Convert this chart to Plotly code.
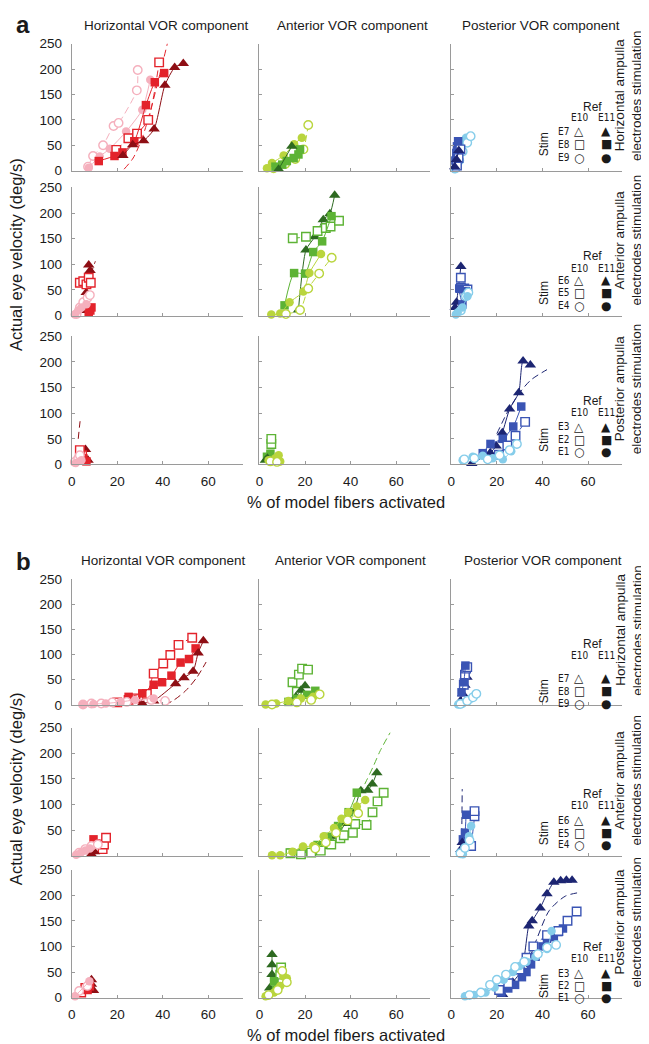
import plotly.graph_objects as go

W, H = 649, 1044

# ---------------- text ----------------
COMPONENTS = ["Horizontal VOR component", "Anterior VOR component", "Posterior VOR component"]
STIM_ROWS = [("Horizontal ampulla", "electrodes stimulation"),
             ("Anterior ampulla", "electrodes stimulation"),
             ("Posterior ampulla", "electrodes stimulation")]
STIM_LABELS = [["E7", "E8", "E9"], ["E6", "E5", "E4"], ["E3", "E2", "E1"]]
REF_LABELS = ["E10", "E11"]
Y_TICKS = [0, 50, 100, 150, 200, 250]
X_TICKS = [0, 20, 40, 60]
X_TITLE = "% of model fibers activated"
Y_TITLE = "Actual eye velocity (deg/s)"

# ---------------- data: (series key, x %, y deg/s) ----------------
# key: T/S/C = triangle/square/circle (stim electrode), o = E10 ref (open), f = E11 ref (filled)
a_HH = [
    ("Co", [7.2, 9.4, 13.8, 18.4, 20.6, 28.6, 29.0], [8, 29, 50, 88, 94, 158, 198]),
    ("Cf", [7.5, 12.3, 16.7, 23.9, 31.0, 34.5], [6, 28, 43, 77, 120, 179]),
    ("So", [19.6, 24.9, 28.7, 33.6, 38.4], [41, 64, 73, 100, 213]),
    ("Sf", [11.9, 18.8, 22.3, 27.5, 32.6, 36.5, 40.6], [19, 29, 36, 58, 129, 174, 192]),
    ("Tf", [22.5, 26.8, 31.6, 36.2, 40.9, 45.2, 49.0], [30, 51, 59, 82, 168, 203, 211]),
]
a_HA = [
    ("Co", [6.2, 11.3, 15.7, 19.3, 21.4], [5, 13, 23, 42, 90]),
    ("Cf", [3.3, 5.5, 10.6, 15.2, 18.6], [5, 15, 30, 52, 65]),
    ("Sf", [7.0, 10.0, 12.0, 15.0, 17.1, 17.8], [8, 12, 19, 25, 32, 42]),
    ("Tf", [8.4, 14.2], [3, 48]),
]
a_HP = [
    ("Cf", [1.5, 2.5, 3.0, 4.0, 5.0, 6.5], [3, 12, 25, 40, 55, 65]),
    ("Co", [2.0, 3.5, 5.0, 7.0, 8.5], [5, 20, 38, 55, 68]),
    ("Sf", [1.8, 2.2, 2.5, 3.0], [20, 35, 48, 58]),
    ("So", [2.5, 3.2, 4.0], [10, 25, 42]),
    ("Tf", [1.5, 2.3, 3.3], [8, 22, 40]),
]
a_AH = [
    ("Tf", [6.5, 6.4, 8.1, 7.5], [10, 45, 88, 99]),
    ("So", [3.6, 5.1, 6.5, 7.5, 8.4], [64, 67, 61, 74, 64]),
    ("Sf", [7.5, 8.2, 8.7], [6, 10, 16]),
    ("Co", [2.2, 3.6, 5.1, 7.0, 8.0], [3, 16, 26, 35, 40]),
    ("Cf", [1.4, 2.9, 4.3, 6.5], [2, 10, 16, 22]),
]
a_AA = [
    ("Tf", [17.1, 20.4, 24.3, 28.0, 30.9, 33.0], [11, 128, 154, 187, 199, 235]),
    ("So", [14.6, 20.4, 25.5, 29.1, 31.2, 34.9], [151, 154, 165, 171, 174, 185]),
    ("Sf", [11.0, 15.2, 20.0, 23.6, 27.5, 31.6], [20, 83, 82, 124, 145, 194]),
    ("Cf", [5.2, 9.1, 13.2, 19.3, 21.9, 27.0], [2, 4, 26, 47, 83, 120]),
    ("Co", [11.6, 17.8, 21.4, 26.2, 31.7], [3, 11, 53, 82, 113]),
]
a_AP = [
    ("Tf", [1.7, 2.3, 4.2], [16, 26, 96]),
    ("So", [5.7, 4.2, 7.1, 4.2], [53, 54, 51, 74]),
    ("Sf", [4.9, 3.5, 6.4], [22, 53, 48]),
    ("Co", [4.2, 6.4, 7.5], [10, 38, 45]),
    ("Cf", [2.0, 2.8, 4.9, 7.1], [2, 6, 16, 38]),
]
a_PH = [
    ("Tf", [7.2, 6.1], [8, 29]),
    ("So", [4.6, 3.6], [18, 28]),
    ("Sf", [6.5, 5.1], [6, 12]),
    ("Co", [1.4, 2.9, 3.6], [5, 12, 18]),
    ("Cf", [1.8, 4.3], [3, 8]),
]
a_PA = [
    ("So", [5.2, 5.2], [40, 50]),
    ("Sf", [3.3, 4.8], [15, 21]),
    ("Tf", [2.6, 3.5], [8, 12]),
    ("Cf", [4.0, 9.1, 7.0, 8.4], [8, 6, 12, 18]),
    ("Co", [4.8, 7.7], [6, 5]),
]
a_PP = [
    ("Tf", [9.0, 17.1, 19.7, 22.4, 25.6, 29.6, 31.5, 34.7], [2, 23, 36, 62, 108, 140, 202, 194]),
    ("Sf", [13.8, 17.2, 22.6, 27.2, 30.7], [22, 40, 50, 74, 113]),
    ("So", [20.9, 24.6, 28.2, 32.4], [19, 37, 56, 83]),
    ("Cf", [5.0, 9.4, 13.8, 18.2, 22.6, 26.3], [8, 15, 17, 12, 10, 26]),
    ("Co", [5.7, 10.1, 16.0, 21.2, 25.6, 28.8], [10, 12, 10, 18, 28, 40]),
]
b_HH = [
    ("So", [20.0, 25.0, 28.0, 33.0, 36.0, 40.2, 43.3, 46.9, 52.9], [5, 10, 13, 22, 62, 82, 99, 119, 133]),
    ("Sf", [25.0, 31.0, 36.0, 39.7, 43.8, 47.8, 51.5, 54.4], [16, 23, 40, 45, 58, 84, 91, 112]),
    ("Tf", [31.0, 36.0, 45.6, 49.3, 53.3, 55.5, 57.8], [3, 8, 42, 54, 67, 103, 127]),
    ("Co", [5.0, 8.7, 13.0, 17.8, 24.2, 35.0, 41.0], [1, 3, 3, 5, 6, 10, 8]),
    ("Cf", [5.0, 9.6, 15.0, 21.5, 27.8, 36.0], [1, 2, 3, 6, 10, 13]),
]
b_HA = [
    ("So", [16.4, 14.5, 17.3, 18.7, 21.3], [26, 45, 60, 72, 70]),
    ("Tf", [15.0, 16.0, 18.2, 20.0], [8, 16, 29, 38]),
    ("Sf", [12.7, 16.4, 20.9, 24.5], [6, 12, 20, 28]),
    ("Cf", [2.7, 7.3, 12.7, 18.2, 23.6], [1, 3, 8, 13, 16]),
    ("Co", [5.5, 16.4, 22.7, 26.4], [1, 5, 10, 21]),
]
b_HP = [
    ("Tf", [4.0, 5.0, 6.0, 6.9], [8, 22, 39, 55]),
    ("So", [5.5, 6.0, 6.5, 7.0], [40, 60, 72, 75]),
    ("Sf", [4.5, 5.5, 6.2], [25, 45, 78]),
    ("Cf", [3.0, 5.0, 8.7, 10.5], [1, 3, 13, 20]),
    ("Co", [4.0, 7.0, 9.5, 11.0], [2, 8, 15, 22]),
]
b_AH = [
    ("So", [13.6, 14.2, 15.1], [13, 22, 35]),
    ("Sf", [8.7, 10.5, 9.6], [13, 24, 32]),
    ("Tf", [8.7, 10.0], [3, 8]),
    ("Co", [3.3, 6.0, 8.7, 11.5], [6, 13, 19, 22]),
    ("Cf", [2.0, 4.0, 6.0, 8.0], [2, 6, 10, 14]),
]
b_AA = [
    ("Tf", [24.5, 29.1, 33.6, 37.8, 41.5, 44.5, 47.5, 49.5, 51.5], [8, 18, 38, 63, 87, 127, 128, 140, 162]),
    ("Sf", [13.6, 19.1, 25.5, 30.0, 34.5, 39.1, 42.7], [6, 8, 21, 37, 58, 85, 123]),
    ("So", [13.6, 18.2, 22.7, 26.9, 31.5, 35.5, 37.0, 41.0, 42.0, 47.0, 49.6, 51.8, 54.5],
     [5, 3, 6, 10, 22, 34, 40, 45, 62, 60, 85, 106, 123]),
    ("Cf", [5.5, 9.1, 14.5, 19.1, 23.6, 28.2, 32.7, 36.0, 38.9, 42.7, 46.4], [1, 1, 8, 18, 19, 38, 54, 72, 85, 96, 109]),
    ("Co", [24.5, 29.1, 33.6, 38.7, 43.3], [14, 26, 45, 69, 83]),
]
b_AP = [
    ("So", [8.7, 10.2, 10.2], [19, 77, 87]),
    ("Sf", [5.1, 6.0, 6.5], [32, 45, 80]),
    ("Tf", [4.2, 4.8], [12, 26]),
    ("Cf", [5.1, 7.8, 8.7], [3, 38, 58]),
    ("Co", [4.0, 6.0, 8.0], [5, 15, 30]),
]
b_PH = [
    ("Tf", [9.6, 8.7, 8.7], [14, 26, 35]),
    ("So", [4.2, 6.0], [10, 19]),
    ("Sf", [7.0, 8.0], [15, 22]),
    ("Co", [3.3, 6.9], [13, 23]),
    ("Cf", [1.5, 7.8], [3, 32]),
]
b_PA = [
    ("Tf", [4.5, 5.5, 5.5, 5.5], [19, 45, 64, 84]),
    ("So", [10.0, 9.1, 9.5], [32, 45, 59]),
    ("Sf", [7.3, 6.4], [16, 32]),
    ("Cf", [2.7, 6.4, 9.1, 12.0, 10.5], [3, 10, 23, 38, 42]),
    ("Co", [4.0, 8.0, 12.0, 10.0], [5, 15, 30, 52]),
]
b_PP = [
    ("Tf", [22.5, 27.0, 31.0, 34.0, 35.5, 39.0, 42.0, 45.0, 48.0, 50.5, 53.0],
     [6, 30, 55, 140, 150, 175, 203, 225, 228, 229, 229]),
    ("Sf", [22.0, 25.0, 28.0, 31.0, 33.0, 35.0, 37.0, 40.0, 42.0, 45.0, 47.0, 49.0],
     [10, 18, 25, 40, 50, 65, 80, 100, 115, 118, 128, 135]),
    ("So", [21.0, 25.0, 30.0, 33.0, 36.0, 42.0, 47.0, 51.0, 55.0], [15, 28, 55, 78, 100, 122, 130, 150, 168]),
    ("Cf", [6.0, 10.0, 15.0, 19.0, 23.0, 27.0, 30.0, 33.0, 37.0, 42.0, 44.0],
     [3, 5, 10, 20, 35, 50, 62, 70, 80, 95, 130]),
    ("Co", [8.0, 13.0, 17.0, 20.0, 24.0, 28.0, 32.0, 38.0, 42.0, 46.0], [5, 10, 25, 35, 45, 60, 70, 85, 98, 103]),
]

# extra fitted curves (dashed)
fit_a_HH_So = ([23, 27, 31, 35, 39, 42], [3, 25, 65, 125, 195, 250])
fit_a_AH_Tf = ([6.0, 8.0, 10.4], [40, 75, 106])
fit_a_PH_Tf = ([2.9, 3.4, 3.9], [50, 72, 92])
fit_a_PP_To = ([20, 25, 30, 35, 42], [60, 105, 140, 165, 185])
fit_b_HH_To = ([41, 45, 50, 55, 59], [0, 10, 28, 55, 85])
fit_b_AA_To = ([44, 47, 50, 53, 57.3], [120, 147, 175, 205, 240])
fit_b_AP_To = ([4.6, 4.7, 4.8], [40, 85, 130])
fit_b_PP_To = ([33, 38, 43, 50, 56], [60, 120, 170, 198, 205])

PANELS = {
    "a": [[a_HH, a_HA, a_HP], [a_AH, a_AA, a_AP], [a_PH, a_PA, a_PP]],
    "b": [[b_HH, b_HA, b_HP], [b_AH, b_AA, b_AP], [b_PH, b_PA, b_PP]],
}
FITS = {
    ("a", 0, 0): [("So", fit_a_HH_So)],
    ("a", 1, 0): [("Tf", fit_a_AH_Tf)],
    ("a", 2, 0): [("Tf", fit_a_PH_Tf)],
    ("a", 2, 2): [("To", fit_a_PP_To)],
    ("b", 0, 0): [("To", fit_b_HH_To)],
    ("b", 1, 1): [("So", fit_b_AA_To)],
    ("b", 1, 2): [("To", fit_b_AP_To)],
    ("b", 2, 2): [("To", fit_b_PP_To)],
}

# ---------------- style ----------------
COLORS = [  # per component column: triangle, square, circle
    ["#8e0e14", "#e3232b", "#f5b0bd"],
    ["#2e6a21", "#5db335", "#b9d53d"],
    ["#1c2572", "#3a54b4", "#86cdea"],
]
SHAPE_IDX = {"T": 0, "S": 1, "C": 2}
SYMBOL = {"T": "triangle-up", "S": "square", "C": "circle"}
MSIZE = {"T": 10, "S": 8.5, "C": 8.5}
FONT = "Liberation Sans, Arial, sans-serif"
NARROW = "DejaVu Sans Condensed, Liberation Sans Narrow, Liberation Sans, sans-serif"
TXT = "#1a1a1a"
AXC = "#9a9a9a"

COL_PX = [(60, 232), (249, 421), (442, 614)]
ROW_PX = {"a": [(29, 158), (175, 305), (326, 456)], "b": [(572, 700), (723, 853), (867, 997)]}


def fx(p):
    return p / W


def fy(p):
    return 1 - p / H


fig = go.Figure()
layout = {}
annotations = []

n = 0
for panel in ["a", "b"]:
    for r in range(3):
        for c in range(3):
            n += 1
            sfx = "" if n == 1 else str(n)
            xa, ya = "x" + sfx, "y" + sfx
            x0, x1 = COL_PX[c]
            y0, y1 = ROW_PX[panel][r]
            bottom = (r == 2)
            yticktext = [str(v) for v in Y_TICKS]
            if panel == "b" and r == 1:
                yticktext[0] = ""
            layout["xaxis" + sfx] = dict(
                domain=[fx(x0), fx(x1)], range=[0, 75], anchor=ya,
                showline=True, linecolor=AXC, linewidth=1, mirror=False,
                ticks="inside", ticklen=3, tickcolor=AXC, tickwidth=1,
                tickvals=X_TICKS, showticklabels=bottom,
                tickfont=dict(family=FONT, size=13.5, color=TXT),
                ticklabelstandoff=4,
                showgrid=False, zeroline=False, fixedrange=True)
            layout["yaxis" + sfx] = dict(
                domain=[fy(y1), fy(y0)], range=[0, 250], anchor=xa,
                showline=True, linecolor=AXC, linewidth=1, mirror=False,
                ticks="inside", ticklen=3, tickcolor=AXC, tickwidth=1,
                tickvals=Y_TICKS, ticktext=yticktext, showticklabels=(c == 0),
                tickfont=dict(family=FONT, size=13.5, color=TXT),
                ticklabelstandoff=6,
                showgrid=False, zeroline=False, fixedrange=True)

            # fitted curves
            for key, (fxs, fys) in FITS.get((panel, r, c), []):
                col = COLORS[c][SHAPE_IDX[key[0]]]
                fig.add_trace(go.Scatter(
                    x=fxs, y=fys, xaxis=xa, yaxis=ya, mode="lines",
                    line=dict(color=col, width=1, dash="7px,4px", shape="spline", smoothing=0.8),
                    cliponaxis=False, showlegend=False, hoverinfo="skip"))
            # data series
            for key, xs, ys in PANELS[panel][r][c]:
                shape, is_open = key[0], key[1] == "o"
                col = COLORS[c][SHAPE_IDX[shape]]
                fig.add_trace(go.Scatter(
                    x=xs, y=ys, xaxis=xa, yaxis=ya, mode="lines+markers",
                    line=dict(color=col, width=1, dash="7px,4px" if is_open else "solid",
                              shape="spline", smoothing=0.6),
                    marker=dict(symbol=SYMBOL[shape], size=MSIZE[shape],
                                color="white" if is_open else col,
                                line=dict(color=col, width=1.4 if is_open else 0)),
                    cliponaxis=False, showlegend=False, hoverinfo="skip"))


def ann(text, px, py, size, angle=0, bold=False, xanchor="center", family=FONT, color=TXT):
    annotations.append(dict(
        text=("<b>%s</b>" % text) if bold else text, x=fx(px), y=fy(py),
        xref="paper", yref="paper", xanchor=xanchor, yanchor="middle",
        showarrow=False, textangle=angle,
        font=dict(family=family, size=size, color=color)))


# rotated annotations render about half a line right of their anchor; compensate
ROT_SHIFT = 0.55

# panel letters, titles
PANEL_TOP = {"a": 0, "b": 544}
TITLE_X = {"a": [155, 343, 532], "b": [152, 341, 534]}
TITLE_Y = {"a": 11, "b": 553}
for panel in ["a", "b"]:
    ann(panel, 2, PANEL_TOP[panel] + 10, 24, bold=True, xanchor="left")
    for c in range(3):
        ann(COMPONENTS[c], TITLE_X[panel][c], TITLE_Y[panel], 13.5)
    rows = ROW_PX[panel]
    ann(Y_TITLE, 13 - ROT_SHIFT * 16.5, (rows[0][0] + rows[2][1]) / 2, 16.5, angle=-90)
    ann(X_TITLE, 336, rows[2][1] + 38, 16.5)
    for r in range(3):
        yc = (rows[r][0] + rows[r][1]) / 2 - 12
        ann(STIM_ROWS[r][0], 619 - ROT_SHIFT * 13.5, yc, 13.5, angle=-90)
        ann(STIM_ROWS[r][1], 636 - ROT_SHIFT * 13.5, yc, 13.5, angle=-90)

# symbol legends
LEG_Y = {"a": [(93, 104, [118, 131, 145]), (245, 257, [269, 282, 295]), (392, 403, [418, 431, 443])],
         "b": [(638, 650, [673, 686, 699]), (790, 802, [817, 830, 842]), (946, 957, [972, 985, 997])]}
OPEN_SYMS = ["\u25b3", "\u25a1", "\u25cb"]
FILL_SYMS = ["\u25b2", "\u25a0", "\u25cf"]
SYMF = "DejaVu Sans, sans-serif"
for panel in ["a", "b"]:
    for r in range(3):
        yref, yhdr, yrows = LEG_Y[panel][r]
        ann("Ref", 584, yref, 12)
        ann(REF_LABELS[0], 571, yhdr, 10, family=NARROW)
        ann(REF_LABELS[1], 598, yhdr, 10, family=NARROW)
        ann("Stim", 542 - ROT_SHIFT * 12, yrows[1], 12, angle=-90)
        for k in range(3):
            ann(STIM_LABELS[r][k], 555, yrows[k], 10, family=NARROW)
            ann(OPEN_SYMS[k], 571, yrows[k], 12, family=SYMF)
            ann(FILL_SYMS[k], 598, yrows[k], 12, family=SYMF)

fig.update_layout(
    width=W, height=H, autosize=False,
    margin=dict(l=0, r=0, t=0, b=0),
    paper_bgcolor="white", plot_bgcolor="white",
    font=dict(family=FONT, color=TXT),
    annotations=annotations, **layout)

fig.write_html("out.html")
